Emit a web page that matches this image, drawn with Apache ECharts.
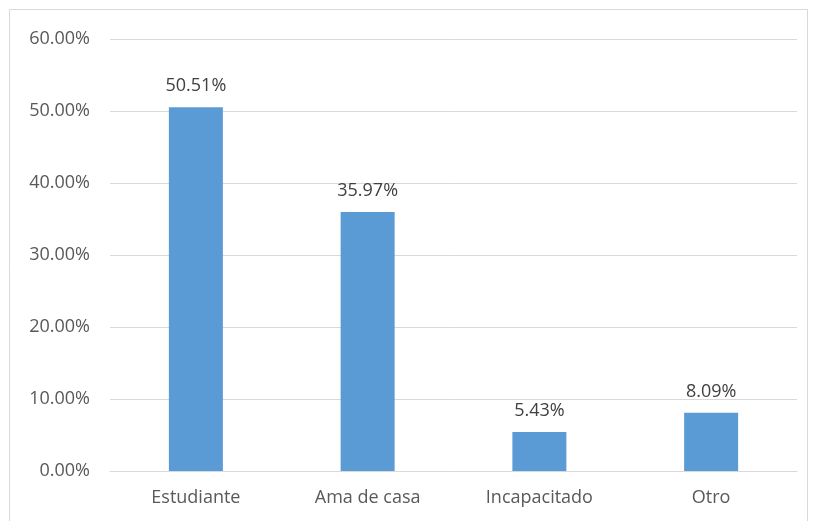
<!DOCTYPE html>
<html>
<head>
<meta charset="utf-8">
<script src="https://cdn.jsdelivr.net/npm/echarts@6/dist/echarts.min.js"></script>
<style>html,body{margin:0;padding:0;background:#fff;}#c{width:818px;height:521px;}</style>
</head>
<body>
<div id="c"></div>
<script>
const categories = ['Estudiante', 'Ama de casa', 'Incapacitado', 'Otro'];
const values = [50.51, 35.97, 5.43, 8.09];

const chart = echarts.init(document.getElementById('c'));
chart.setOption({
  backgroundColor: '#fff',
  animation: false,
  textStyle: { fontFamily: 'Open Sans' },
  graphic: [{
    type: 'rect',
    shape: { x: 9.5, y: 9.5, width: 798, height: 520 },
    style: { fill: 'none', stroke: '#d9d9d9', lineWidth: 1 },
    silent: true
  }],
  grid: { left: 110, right: 21, top: 39, bottom: 50 },
  xAxis: {
    type: 'category',
    data: categories,
    axisLine: { show: true, lineStyle: { color: '#d9d9d9', width: 1 } },
    axisTick: { show: false },
    axisLabel: { color: '#595959', fontSize: 18, margin: 18, fontFamily: 'Open Sans' }
  },
  yAxis: {
    type: 'value',
    min: 0, max: 60, interval: 10,
    axisLine: { show: false },
    axisTick: { show: false },
    splitLine: { lineStyle: { color: '#d9d9d9', width: 1 } },
    axisLabel: { color: '#595959', fontSize: 18, margin: 20, fontFamily: 'Open Sans',
      formatter: v => v.toFixed(2) + '%' }
  },
  series: [{
    type: 'bar',
    data: values,
    barWidth: 54,
    itemStyle: { color: '#5b9bd5' },
    label: { show: true, position: 'top', distance: 12, color: '#404040', fontSize: 18,
      fontFamily: 'Open Sans', formatter: p => p.value.toFixed(2) + '%' }
  }]
});
</script>
</body>
</html>
